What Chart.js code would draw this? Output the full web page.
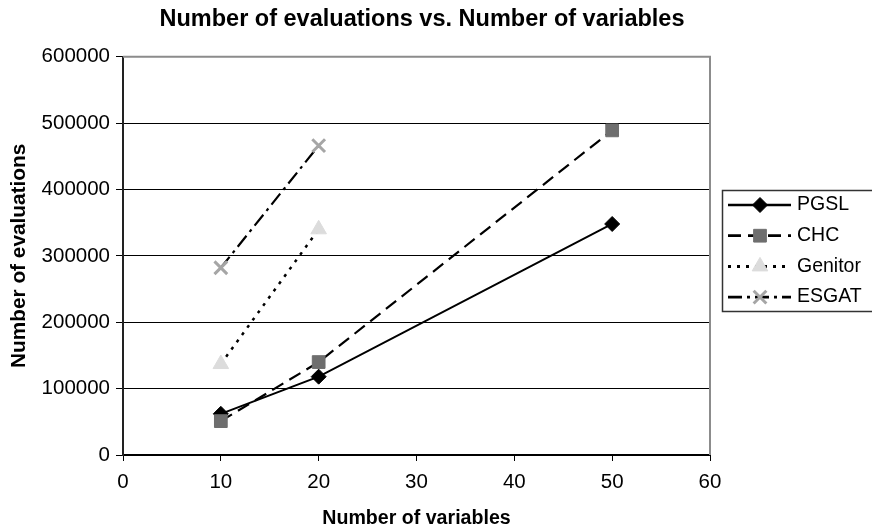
<!DOCTYPE html>
<html>
<head>
<meta charset="utf-8">
<script src="https://cdn.jsdelivr.net/npm/chart.js@4.4.0/dist/chart.umd.min.js"></script>
<style>
  html, body { margin: 0; padding: 0; background: #fff; }
  #wrap { width: 872px; height: 530px; }
</style>
</head>
<body>
<div id="wrap"><canvas id="evalChart" width="872" height="530"></canvas></div>
<script>
// values
const variableCounts = [10, 20, 50];
const pgslEvals = [62000, 118000, 348000];
const chcEvals = [51000, 140000, 489000];
const genitorEvals = [137000, 340000];
const esgatEvals = [282000, 466000];

const xTickValues = [0, 10, 20, 30, 40, 50, 60];
const yTickValues = [0, 100000, 200000, 300000, 400000, 500000, 600000];

const FONT = "'Liberation Sans', Arial, sans-serif";
Chart.defaults.font.family = FONT;
Chart.defaults.color = "#000";

function toPoints(values) {
  return values.map((v, i) => ({ x: variableCounts[i], y: v }));
}

// gray frame on top / right of the plot area
const plotFrame = {
  id: "plotFrame",
  beforeDatasetsDraw(chart) {
    const { ctx, chartArea: { left, top, right, bottom } } = chart;
    ctx.save();
    ctx.strokeStyle = "#8c8c8c";
    ctx.lineWidth = 2;
    ctx.beginPath();
    ctx.moveTo(left, top);
    ctx.lineTo(right, top);
    ctx.lineTo(right, bottom);
    ctx.stroke();
    ctx.restore();
  },
};

// excel style legend: line sample with marker on it
const sideLegend = {
  id: "sideLegend",
  afterDraw(chart) {
    const ctx = chart.ctx;
    ctx.save();
    ctx.fillStyle = "#fff";
    ctx.fillRect(722, 190, 160, 122);
    ctx.strokeStyle = "#333";
    ctx.lineWidth = 1.5;
    ctx.strokeRect(722.5, 190.5, 170, 121);

    chart.data.datasets.forEach((ds, i) => {
      const y = 205 + i * 30.7;
      ctx.strokeStyle = ds.borderColor;
      ctx.lineWidth = ds.borderWidth + 0.5;
      ctx.setLineDash(ds.borderDash || []);
      ctx.beginPath();
      ctx.moveTo(728, y);
      ctx.lineTo(791, y);
      ctx.stroke();
      ctx.setLineDash([]);

      ctx.fillStyle = ds.pointBackgroundColor;
      ctx.strokeStyle = ds.pointBorderColor;
      ctx.lineWidth = ds.pointBorderWidth;
      Chart.helpers.drawPoint(ctx, {
        pointStyle: ds.pointStyle,
        radius: ds.pointRadius,
        rotation: 0,
        borderWidth: ds.pointBorderWidth,
      }, 760, y);

      ctx.fillStyle = "#000";
      ctx.font = "19.5px " + FONT;
      ctx.textBaseline = "middle";
      ctx.textAlign = "left";
      ctx.fillText(ds.label, 797, y);
    });
    ctx.restore();
  },
};

new Chart(document.getElementById("evalChart"), {
  type: "scatter",
  data: {
    datasets: [
      {
        label: "PGSL",
        data: toPoints(pgslEvals),
        showLine: true,
        borderColor: "#000",
        borderWidth: 2,
        pointStyle: "rectRot",
        pointRadius: 7.5,
        pointBackgroundColor: "#000",
        pointBorderColor: "#000",
        pointBorderWidth: 1,
        order: 2,
      },
      {
        label: "CHC",
        data: toPoints(chcEvals),
        showLine: true,
        borderColor: "#000",
        borderWidth: 2.2,
        borderDash: [13, 7],
        pointStyle: "rect",
        pointRadius: 9,
        pointBackgroundColor: "#6e6e6e",
        pointBorderColor: "#6e6e6e",
        pointBorderWidth: 1,
        order: 1,
      },
      {
        label: "Genitor",
        data: toPoints(genitorEvals),
        showLine: true,
        borderColor: "#000",
        borderWidth: 2.5,
        borderDash: [3, 6],
        pointStyle: "triangle",
        pointRadius: 9,
        pointBackgroundColor: "#dcdcdc",
        pointBorderColor: "#dcdcdc",
        pointBorderWidth: 1,
        order: 3,
      },
      {
        label: "ESGAT",
        data: toPoints(esgatEvals),
        showLine: true,
        borderColor: "#000",
        borderWidth: 2.2,
        borderDash: [14, 5, 3, 5],
        pointStyle: "crossRot",
        pointRadius: 9,
        pointBackgroundColor: "#a6a6a6",
        pointBorderColor: "#a6a6a6",
        pointBorderWidth: 3,
        order: 4,
      },
    ],
  },
  options: {
    responsive: false,
    animation: false,
    layout: { padding: { left: 0, right: 28, top: 0, bottom: 0 } },
    plugins: {
      legend: { display: false },
      tooltip: { enabled: false },
      title: {
        display: true,
        text: "Number of evaluations vs. Number of variables",
        color: "#000",
        font: { size: 23.5, weight: "bold" },
        padding: { top: 5.5, bottom: 23 },
      },
    },
    scales: {
      x: {
        type: "linear",
        min: 0,
        max: 60,
        afterBuildTicks: (scale) => {
          scale.ticks = xTickValues.map((v) => ({ value: v }));
        },
        afterFit: (scale) => {
          scale.height = 75;
        },
        ticks: {
          callback: (v) => String(v),
          font: { size: 20.5 },
          color: "#000",
          padding: 9,
          maxRotation: 0,
        },
        grid: {
          drawOnChartArea: false,
          tickLength: 6,
          tickColor: "#000",
          tickWidth: 1,
        },
        border: { color: "#000", width: 2 },
        title: {
          display: true,
          text: "Number of variables",
          color: "#000",
          font: { size: 19.6, weight: "bold" },
          padding: { top: 0, bottom: 0 },
        },
      },
      y: {
        type: "linear",
        min: 0,
        max: 600000,
        afterBuildTicks: (scale) => {
          scale.ticks = yTickValues.map((v) => ({ value: v }));
        },
        afterFit: (scale) => {
          scale.width = 123;
        },
        ticks: {
          callback: (v) => String(v),
          font: { size: 20.5 },
          color: "#000",
          padding: 6,
        },
        grid: {
          color: "#000",
          lineWidth: 1,
          tickLength: 7,
          tickColor: "#000",
        },
        border: { color: "#222", width: 2 },
        title: {
          display: true,
          text: "Number of evaluations",
          color: "#000",
          font: { size: 20.8, weight: "bold" },
          padding: { top: 7, bottom: 0 },
        },
      },
      // empty box on the right that leaves room for the legend
      legendSpace: {
        type: "linear",
        position: "right",
        display: true,
        ticks: { display: false },
        grid: { display: false },
        border: { display: false },
        afterFit: (scale) => {
          scale.width = 134;
        },
      },
    },
  },
  plugins: [plotFrame, sideLegend],
});
</script>
</body>
</html>
